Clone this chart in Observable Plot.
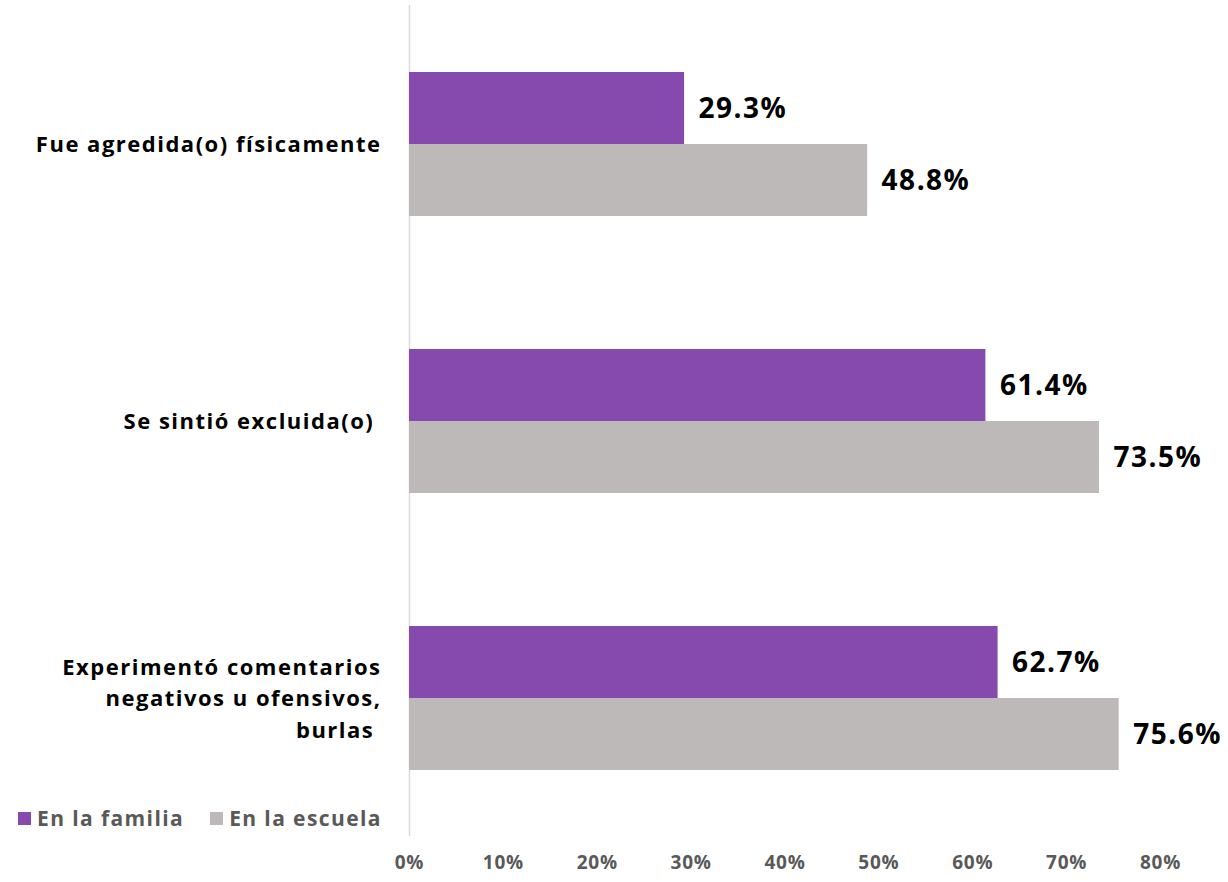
<!DOCTYPE html>
<html>
<head>
<meta charset="utf-8">
<script src="https://cdn.jsdelivr.net/npm/d3@7"></script>
<script src="https://cdn.jsdelivr.net/npm/@observablehq/plot@0.6"></script>
<style>
  html, body { margin: 0; padding: 0; background: #fff; }
  #wrap { position: relative; width: 1228px; height: 882px; font-family: "Open Sans", sans-serif; }
  #legend { position: absolute; left: 18px; top: 804px; display: flex; align-items: center; font-size: 21px; font-weight: 700; color: #595959; letter-spacing: 1.4px; }
  #legend .item { display: flex; align-items: center; margin-right: 26px; }
  #legend .sw { width: 13px; height: 13px; margin-right: 6px; }
</style>
</head>
<body>
<div id="wrap"><div id="legend"></div></div>
<script>
const categories = ["Fue agredida(o) físicamente", "Se sintió excluida(o)", "Experimentó comentarios negativos u ofensivos, burlas"];
const categoryLabels = ["Fue agredida(o) físicamente", "Se sintió excluida(o)\u00a0", "Experimentó comentarios\nnegativos u ofensivos,\nburlas\u00a0"];
const series = ["En la familia", "En la escuela"];
const familia = [29.3, 61.4, 62.7];
const escuela = [48.8, 73.5, 75.6];
const xTicks = [0, 10, 20, 30, 40, 50, 60, 70, 80];
const colors = ["#864AAF", "#BDB9B9"];

const data = [];
categories.forEach((c, i) => {
  data.push({cat: c, series: series[0], value: familia[i]});
  data.push({cat: c, series: series[1], value: escuela[i]});
});
const labelOf = new Map(categories.map((c, i) => [c, categoryLabels[i]]));

const chart = Plot.plot({
  width: 1228,
  height: 882,
  marginLeft: 409,
  marginRight: 68,
  marginTop: 4,
  marginBottom: 45,
  style: { fontFamily: "'Open Sans', sans-serif", fontSize: "19px", fontWeight: 700, color: "#595959", background: "white" },
  x: { domain: [0, 80], ticks: xTicks, tickFormat: d => d + "%", tickSize: 0, tickPadding: 19, label: null },
  fy: { domain: categories, padding: 0, axis: null },
  y: { domain: series, paddingInner: 0, paddingOuter: 0.917, axis: null },
  color: { domain: series, range: colors },
  marks: [
    Plot.ruleX([0], { stroke: "#d9d9d9", strokeWidth: 1.5 }),
    Plot.barX(data, { fy: "cat", y: "series", x: "value", fill: "series" }),
    Plot.text(data, { fy: "cat", y: "series", x: "value", text: d => d.value.toFixed(1) + "%", textAnchor: "start", dx: 14, dy: 1, fontSize: 28, fontWeight: 700, fill: "black" }),
    Plot.text(categories, { fy: d => d, text: d => labelOf.get(d), frameAnchor: "left", textAnchor: "end", dx: -28, dy: -2, lineHeight: 1.43, fontSize: 22, fontWeight: 700, fill: "black" })
  ]
});
document.getElementById("wrap").appendChild(chart);

const textGroups = chart.querySelectorAll('g[aria-label="text"]');
if (textGroups[0]) textGroups[0].style.letterSpacing = "1.5px";
if (textGroups[1]) textGroups[1].style.letterSpacing = "1.5px";
chart.querySelectorAll('g[aria-label="x-axis tick label"]').forEach(g => g.style.letterSpacing = "0.8px");

const legend = document.getElementById("legend");
series.forEach((s, i) => {
  const item = document.createElement("div");
  item.className = "item";
  const sw = document.createElement("span");
  sw.className = "sw";
  sw.style.background = colors[i];
  const t = document.createElement("span");
  t.textContent = s;
  item.appendChild(sw);
  item.appendChild(t);
  legend.appendChild(item);
});
</script>
</body>
</html>
